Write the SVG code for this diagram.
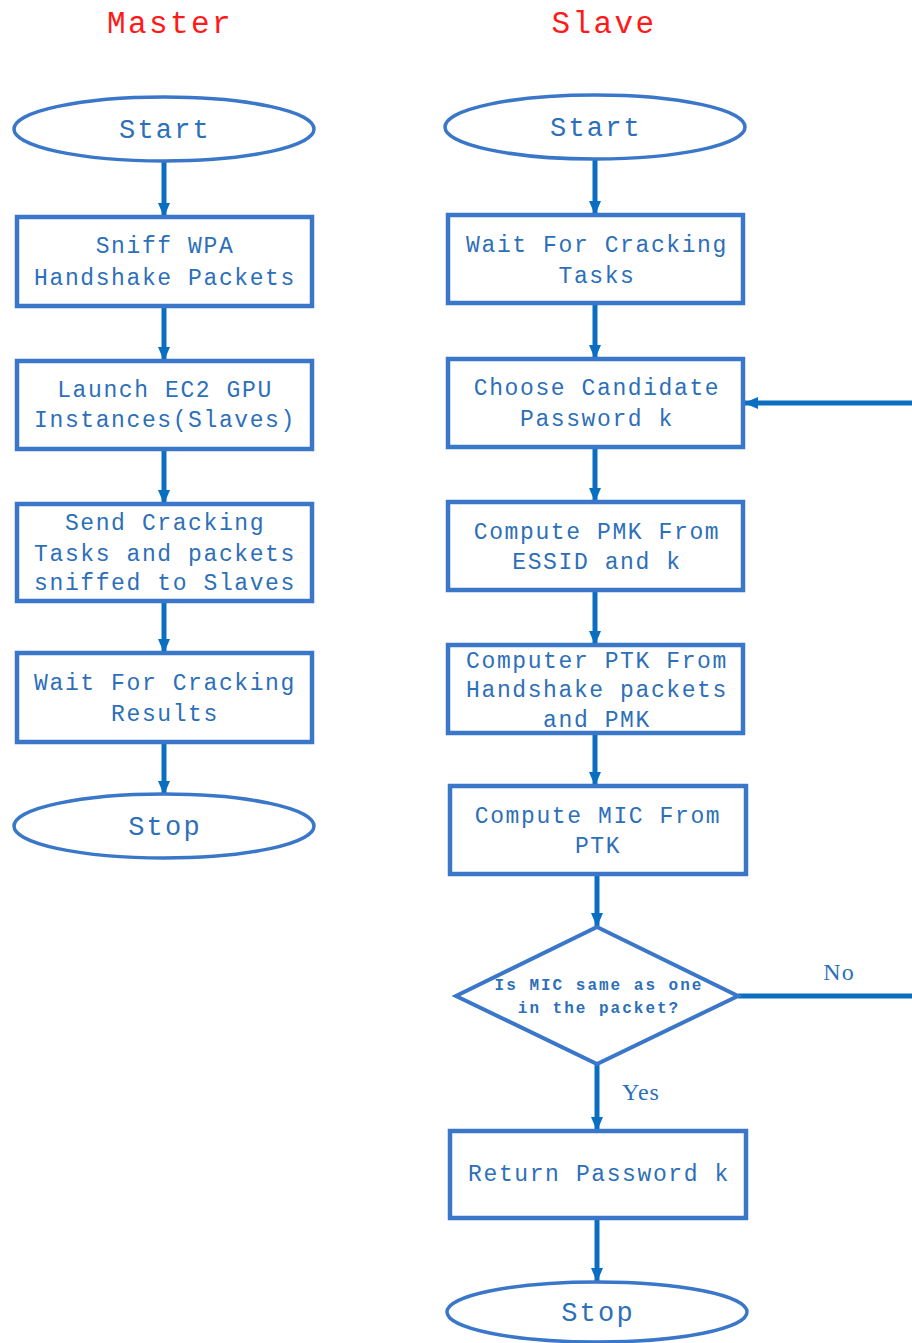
<svg xmlns="http://www.w3.org/2000/svg" width="912" height="1343" viewBox="0 0 912 1343">
<defs>
<marker id="ah" markerUnits="userSpaceOnUse" markerWidth="14" markerHeight="14" viewBox="0 0 14 14" refX="13" refY="7" orient="auto">
<path d="M0,1 L14,7 L0,13 Z" fill="#0B6FC1"/>
</marker>
<style>
.box{fill:#fff;stroke:#3A77C9;stroke-width:4.5}
.ell{fill:#fff;stroke:#3A77C9;stroke-width:3.5}
.t{font-family:"Liberation Mono","Courier New",monospace;font-size:23px;letter-spacing:1.6px;fill:#2D6FB8;text-anchor:middle}
.te{font-family:"Liberation Mono","Courier New",monospace;font-size:27px;letter-spacing:2.2px;fill:#2D6FB8;text-anchor:middle}
.td{font-family:"Liberation Mono","Courier New",monospace;font-size:16px;font-weight:bold;letter-spacing:2px;fill:#2D6FB8;text-anchor:middle}
.title{font-family:"Liberation Mono","Courier New",monospace;font-size:31px;letter-spacing:2.4px;fill:#FF1A1A;text-anchor:middle}
.lbl{font-family:"Liberation Serif","Times New Roman",serif;font-size:24px;letter-spacing:1px;fill:#2D6FB8;text-anchor:middle}
.c{fill:none;stroke:#0B6FC1;stroke-width:5}
</style>
</defs>
<text class="title" x="170" y="33">Master</text>
<text class="title" x="604" y="33">Slave</text>

<g id="connectors">
<line class="c" x1="164" y1="162" x2="164" y2="216" marker-end="url(#ah)"/>
<line class="c" x1="164" y1="307" x2="164" y2="360" marker-end="url(#ah)"/>
<line class="c" x1="164" y1="450" x2="164" y2="503" marker-end="url(#ah)"/>
<line class="c" x1="164" y1="602" x2="164" y2="652" marker-end="url(#ah)"/>
<line class="c" x1="164" y1="743" x2="164" y2="794" marker-end="url(#ah)"/>
<line class="c" x1="595" y1="159" x2="595" y2="214" marker-end="url(#ah)"/>
<line class="c" x1="595" y1="304" x2="595" y2="358" marker-end="url(#ah)"/>
<line class="c" x1="595" y1="448" x2="595" y2="501" marker-end="url(#ah)"/>
<line class="c" x1="595" y1="591" x2="595" y2="644" marker-end="url(#ah)"/>
<line class="c" x1="595" y1="734" x2="595" y2="785" marker-end="url(#ah)"/>
<line class="c" x1="597" y1="875" x2="597" y2="926" marker-end="url(#ah)"/>
<line class="c" x1="597" y1="1065" x2="597" y2="1130" marker-end="url(#ah)"/>
<line class="c" x1="597" y1="1219" x2="597" y2="1281" marker-end="url(#ah)"/>
<line class="c" x1="738" y1="996" x2="914" y2="996"/>
<line class="c" x1="914" y1="403" x2="745" y2="403" marker-end="url(#ah)"/>
<text class="lbl" x="839" y="980">No</text>
<text class="lbl" x="641" y="1100">Yes</text>
</g>

<g id="m-start"><ellipse class="ell" cx="164" cy="129" rx="150" ry="32"/><text class="te" x="165" y="138">Start</text></g>
<g id="m-sniff"><rect class="box" x="17" y="217" width="295" height="89"/><text class="t" x="165" y="253">Sniff WPA</text><text class="t" x="165" y="285">Handshake Packets</text></g>
<g id="m-launch"><rect class="box" x="17" y="361" width="295" height="88"/><text class="t" x="165" y="397">Launch EC2 GPU</text><text class="t" x="165" y="427">Instances(Slaves)</text></g>
<g id="m-send"><rect class="box" x="17" y="504" width="295" height="97"/><text class="t" x="165" y="530">Send Cracking</text><text class="t" x="165" y="561">Tasks and packets</text><text class="t" x="165" y="590">sniffed to Slaves</text></g>
<g id="m-wait"><rect class="box" x="17" y="653" width="295" height="89"/><text class="t" x="165" y="690">Wait For Cracking</text><text class="t" x="165" y="721">Results</text></g>
<g id="m-stop"><ellipse class="ell" cx="164" cy="826" rx="150" ry="32"/><text class="te" x="165" y="835">Stop</text></g>

<g id="s-start"><ellipse class="ell" cx="595" cy="127" rx="150" ry="32"/><text class="te" x="596" y="136">Start</text></g>
<g id="s-wait"><rect class="box" x="448" y="215" width="295" height="88"/><text class="t" x="597" y="252">Wait For Cracking</text><text class="t" x="597" y="283">Tasks</text></g>
<g id="s-choose"><rect class="box" x="448" y="359" width="295" height="88"/><text class="t" x="597" y="395">Choose Candidate</text><text class="t" x="597" y="426">Password k</text></g>
<g id="s-pmk"><rect class="box" x="448" y="502" width="295" height="88"/><text class="t" x="597" y="539">Compute PMK From</text><text class="t" x="597" y="569">ESSID and k</text></g>
<g id="s-ptk"><rect class="box" x="448" y="645" width="295" height="88"/><text class="t" x="597" y="668">Computer PTK From</text><text class="t" x="597" y="697">Handshake packets</text><text class="t" x="597" y="727">and PMK</text></g>
<g id="s-mic"><rect class="box" x="450" y="786" width="296" height="88"/><text class="t" x="598" y="823">Compute MIC From</text><text class="t" x="598" y="853">PTK</text></g>
<g id="s-dec"><polygon points="597,927 738,996 597,1064 456,996" fill="#fff" stroke="#3A77C9" stroke-width="4"/><text class="td" x="599" y="990">Is MIC same as one</text><text class="td" x="599" y="1013">in the packet?</text></g>
<g id="s-return"><rect class="box" x="450" y="1131" width="296" height="87"/><text class="t" x="599" y="1181">Return Password k</text></g>
<g id="s-stop"><ellipse class="ell" cx="597" cy="1312" rx="150" ry="30"/><text class="te" x="598" y="1321">Stop</text></g>
</svg>
